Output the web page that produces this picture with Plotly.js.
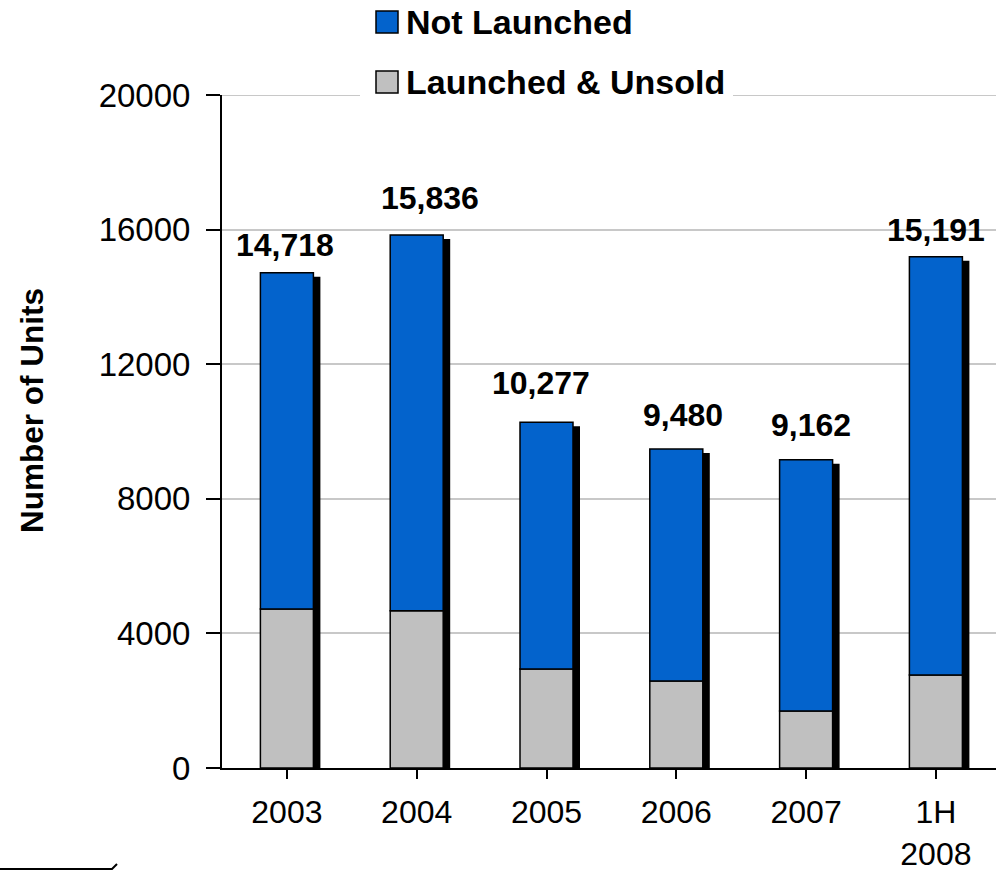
<!DOCTYPE html>
<html>
<head>
<meta charset="utf-8">
<script src="https://cdn.plot.ly/plotly-3.0.1.min.js"></script>
<style>html,body{margin:0;padding:0;background:#fff;}#chart{width:996px;height:871px;}</style>
</head>
<body>
<div id="chart"></div>
<script>
// ---- data ----
const categories = ["2003", "2004", "2005", "2006", "2007", "1H<br>2008"];
const launchedUnsold = [4725, 4670, 2940, 2585, 1695, 2765];
const totalUnits = [14718, 15836, 10277, 9480, 9162, 15191];
const notLaunched = totalUnits.map((t, i) => t - launchedUnsold[i]);
const totalLabels = ["14,718", "15,836", "10,277", "9,480", "9,162", "15,191"];
const seriesNames = ["Not Launched", "Launched & Unsold"];
const yTicks = [0, 4000, 8000, 12000, 16000, 20000];
const yTitle = "Number of Units";

// ---- geometry / styling ----
const W = 996, H = 871;
const M = {l: 222, r: 0, t: 95, b: 103};
const plotW = W - M.l - M.r, plotH = H - M.t - M.b;
const xRange = [-0.5, 5.463];
const yRange = [0, 20000];
const catPx = plotW / (xRange[1] - xRange[0]);
const unitPerPx = (yRange[1] - yRange[0]) / plotH;
const barW = 53 / catPx;
const shadowDx = 7 / catPx;
const shadowDy = 4 * unitPerPx;
const FONT = "Arial, 'Liberation Sans', sans-serif";
const BLUE = "#0363CC", GRAY = "#C0C0C0";
const px2x = p => (p - M.l) / plotW;
const px2y = p => (H - M.b - p) / plotH;
// hand-placed label nudges (pixels) as in the original slide
const labelNudgeX = [-2, 13, -6, 7, 5, 0];
const labelNudgeY = [28, 37, 39, 34, 35, 27];

const xIdx = categories.map((c, i) => i);

const traces = [
  { // drop shadow
    type: "bar", x: xIdx, y: totalUnits.map(t => t - shadowDy), base: 0,
    width: barW, offset: -barW / 2 + shadowDx,
    marker: {color: "#000", line: {width: 0}},
    showlegend: false, hoverinfo: "skip"
  },
  {
    type: "bar", name: seriesNames[1], x: xIdx, y: launchedUnsold, base: 0,
    width: barW, marker: {color: GRAY, line: {color: "#000", width: 1.5}},
    showlegend: false
  },
  {
    type: "bar", name: seriesNames[0], x: xIdx, y: notLaunched, base: launchedUnsold,
    width: barW, marker: {color: BLUE, line: {color: "#000", width: 1.5}},
    showlegend: false
  }
];

const annotations = totalLabels.map((t, i) => ({
  x: i, y: totalUnits[i], xref: "x", yref: "y", text: "<b>" + t + "</b>",
  showarrow: false, xshift: labelNudgeX[i], yshift: labelNudgeY[i],
  xanchor: "center", yanchor: "middle",
  font: {family: FONT, size: 32, color: "#000"}
}));

// y-axis title
annotations.push({xref: "paper", yref: "paper", x: px2x(32), y: px2y(411),
  xanchor: "center", yanchor: "middle", textangle: -90, showarrow: false,
  text: "<b>" + yTitle + "</b>", font: {family: FONT, size: 31.5, color: "#000"}});

const shapes = [
  // top gridline at 20000
  {type: "line", xref: "paper", yref: "y", layer: "below", x0: 0, x1: 1,
   y0: yRange[1], y1: yRange[1], line: {color: "#C8C8C8", width: 2}},
  // legend background
  {type: "rect", xref: "paper", yref: "paper", layer: "above",
   x0: px2x(360), x1: px2x(733), y0: px2y(101), y1: px2y(0),
   fillcolor: "#fff", line: {width: 0}}
];
// manual legend
const legendColors = [BLUE, GRAY];
const legendRowsPx = [22, 82];
seriesNames.forEach((n, i) => {
  const cy = legendRowsPx[i];
  shapes.push({type: "rect", xref: "paper", yref: "paper", layer: "above",
    x0: px2x(376), x1: px2x(398), y0: px2y(cy + 11), y1: px2y(cy - 11),
    fillcolor: legendColors[i], line: {color: "#000", width: 1.5}});
  annotations.push({xref: "paper", yref: "paper", x: px2x(404), y: px2y(cy),
    xanchor: "left", yanchor: "middle", showarrow: false,
    text: "<b>" + n + "</b>", font: {family: FONT, size: 34, color: "#000"}});
});
// stray line bottom-left
shapes.push({type: "path", xref: "paper", yref: "paper", layer: "above",
  path: `M ${px2x(0)} ${px2y(869)} L ${px2x(112)} ${px2y(869)} L ${px2x(117)} ${px2y(864)}`,
  line: {color: "#000", width: 2}});

const layout = {
  width: W, height: H,
  margin: M,
  paper_bgcolor: "#fff", plot_bgcolor: "#fff",
  barmode: "overlay",
  showlegend: false,
  font: {family: FONT, color: "#000"},
  xaxis: {
    range: xRange, tickmode: "array", tickvals: xIdx, ticktext: categories,
    tickson: "boundaries", ticks: "outside", ticklen: 9, tickwidth: 2, tickcolor: "#000",
    showline: true, linecolor: "#000", linewidth: 2, showgrid: false, zeroline: false,
    tickfont: {family: FONT, size: 32, color: "#000"}, ticklabelstandoff: 6,
    fixedrange: true
  },
  yaxis: {
    range: yRange, tickmode: "array", tickvals: yTicks, ticktext: yTicks.map(String),
    ticks: "outside", ticklen: 14, tickwidth: 2, tickcolor: "#000",
    showline: true, linecolor: "#000", linewidth: 2,
    showgrid: true, gridcolor: "#C8C8C8", gridwidth: 2, zeroline: false,
    tickfont: {family: FONT, size: 33, color: "#000"},
    ticklabelstandoff: 9,
    automargin: false, fixedrange: true
  },
  shapes: shapes,
  annotations: annotations
};

Plotly.newPlot("chart", traces, layout, {displayModeBar: false, staticPlot: true});
</script>
</body>
</html>
